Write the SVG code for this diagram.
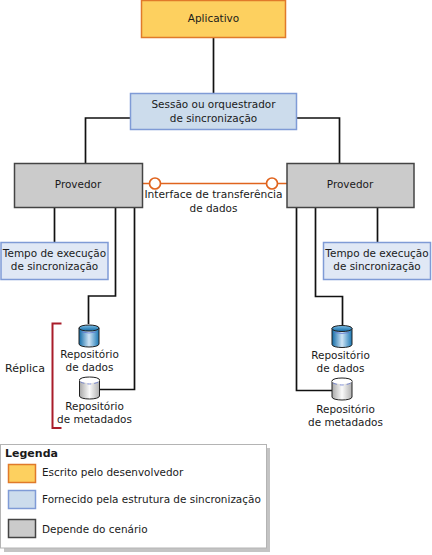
<svg xmlns="http://www.w3.org/2000/svg" width="432" height="555" viewBox="0 0 432 555">
<style>
text{font-family:"DejaVu Sans",Verdana,sans-serif;font-size:10.450px;fill:#1a1a1a;text-anchor:middle}
.l{text-anchor:start}
.c{fill:none;stroke:#111;stroke-width:1.700}
.or{fill:#fdd05f;stroke:#e07a2a;stroke-width:1.500}
.bl{fill:#ccdcec;stroke:#7f9bd6;stroke-width:1.500}
.lb{fill:#e0e8f5;stroke:#7f9bd6;stroke-width:1.500}
.gr{fill:#cbcbcb;stroke:#444;stroke-width:1.500}
.io{fill:none;stroke:#e0641e;stroke-width:1.700}
.cyl{stroke:#222;stroke-width:1}
</style>
<defs>
<linearGradient id="cb" x1="0" x2="1" y1="0" y2="0"><stop offset="0" stop-color="#0f6aa6"/><stop offset=".5" stop-color="#cfe4f5"/><stop offset="1" stop-color="#1a78b5"/></linearGradient>
<linearGradient id="cw" x1="0" x2="1" y1="0" y2="0"><stop offset="0" stop-color="#a8a8a8"/><stop offset=".5" stop-color="#fafafa"/><stop offset="1" stop-color="#b0b0b0"/></linearGradient>
<linearGradient id="ct" x1="0" x2="0" y1="0" y2="1"><stop offset="0" stop-color="#7fbfe6"/><stop offset="1" stop-color="#0f6aa6"/></linearGradient>
<g id="cylB"><path class="cyl" fill="url(#cb)" d="M0 4C0 1 20 1 20 4V20C20 24 0 24 0 20Z"/><path fill="url(#ct)" class="cyl" stroke-width=".5" d="M0 4C0 0 20 0 20 4C20 8 0 8 0 4Z"/><path d="M3 8Q10 10 17 8" fill="none" stroke="#5a6fd0" stroke-width=".7"/></g>
<g id="cylW"><path class="cyl" fill="url(#cw)" d="M0 4C0 1 20 1 20 4V20C20 24 0 24 0 20Z"/><path fill="#fff" d="M0 4C0 0 20 0 20 4C20 8 0 8 0 4Z"/><path d="M0 4C0 0 20 0 20 4" fill="none" stroke="#222"/><path d="M1 6Q10 10 19 6" fill="none" stroke="#5a6fd0" stroke-width=".7" stroke-dasharray="4 3"/></g>
</defs>
<g id="connectors">
<path class="c" d="M213.500 37V93"/>
<path class="c" d="M130 118H85.500V163"/>
<path class="c" d="M296 118H339.500V163"/>
<path class="c" d="M54.500 207V242"/>
<path class="c" d="M115.500 207V296H88.500V324"/>
<path class="c" d="M134.500 207V389.500H100"/>
<path class="c" d="M296.500 207V390.500H332"/>
<path class="c" d="M315.500 207V296.500H342.500V325"/>
<path class="c" d="M377.500 207V242"/>
<path class="io" d="M142 183.500H149M161 183.500H267M278 183.500H287"/>
<circle class="io" cx="155" cy="183.500" r="5.500"/>
<circle class="io" cx="272" cy="183.500" r="5.500"/>
</g>
<g id="aplicativo"><rect class="or" x="141.500" y="0.500" width="144" height="37"/><text x="213.500" y="22">Aplicativo</text></g>
<g id="orquestrador"><rect class="bl" x="130.500" y="93.500" width="166" height="36"/><text x="213.500" y="108">Sessão ou orquestrador</text><text x="213.500" y="122">de sincronização</text></g>
<g id="provedor1"><rect class="gr" x="14.500" y="163.500" width="128" height="44"/><text x="78" y="188">Provedor</text></g>
<g id="provedor2"><rect class="gr" x="287" y="163.500" width="127" height="44"/><text x="350" y="188">Provedor</text></g>
<g id="interface"><text x="213.500" y="198" style="font-size:10.650px">Interface de transferência</text><text x="213.500" y="212">de dados</text></g>
<g id="tempo1"><rect class="lb" x="1" y="242.500" width="107" height="37"/><text x="54.500" y="257">Tempo de execução</text><text x="54.500" y="270">de sincronização</text></g>
<g id="tempo2"><rect class="lb" x="323.500" y="242.500" width="107" height="37"/><text x="377" y="257">Tempo de execução</text><text x="377" y="270">de sincronização</text></g>
<g id="replica"><path fill="none" stroke="#a91c2a" stroke-width="2" d="M61.500 323.500H52.500V428H61.500"/><text x="25" y="372" style="font-size:11px">Réplica</text></g>
<g id="dados1"><use href="#cylB" x="79" y="324"/><text x="89.500" y="358">Repositório</text><text x="89.500" y="371">de dados</text></g>
<g id="meta1"><use href="#cylW" x="79.500" y="376"/><text x="94.500" y="410">Repositório</text><text x="94.500" y="423">de metadados</text></g>
<g id="dados2"><use href="#cylB" x="332" y="324.500"/><text x="340.500" y="359">Repositório</text><text x="340.500" y="372">de dados</text></g>
<g id="meta2"><use href="#cylW" x="332" y="377"/><text x="345.500" y="413">Repositório</text><text x="345.500" y="426">de metadados</text></g>
<g id="legenda">
<rect x="4" y="448" width="266" height="104" fill="#c4c4c4"/>
<rect x="0.500" y="444.500" width="266" height="103.500" fill="#fff" stroke="#b4b4b4"/>
<text class="l" x="5" y="457" style="font-weight:bold;font-size:11px">Legenda</text>
<rect class="or" x="8.500" y="464.500" width="27" height="18"/><text class="l" x="42" y="476">Escrito pelo desenvolvedor</text>
<rect class="bl" x="8.500" y="490.500" width="27" height="18"/><text class="l" x="42" y="503">Fornecido pela estrutura de sincronização</text>
<rect class="gr" x="8.500" y="519.500" width="27" height="18"/><text class="l" x="42" y="533">Depende do cenário</text>
</g>
</svg>
